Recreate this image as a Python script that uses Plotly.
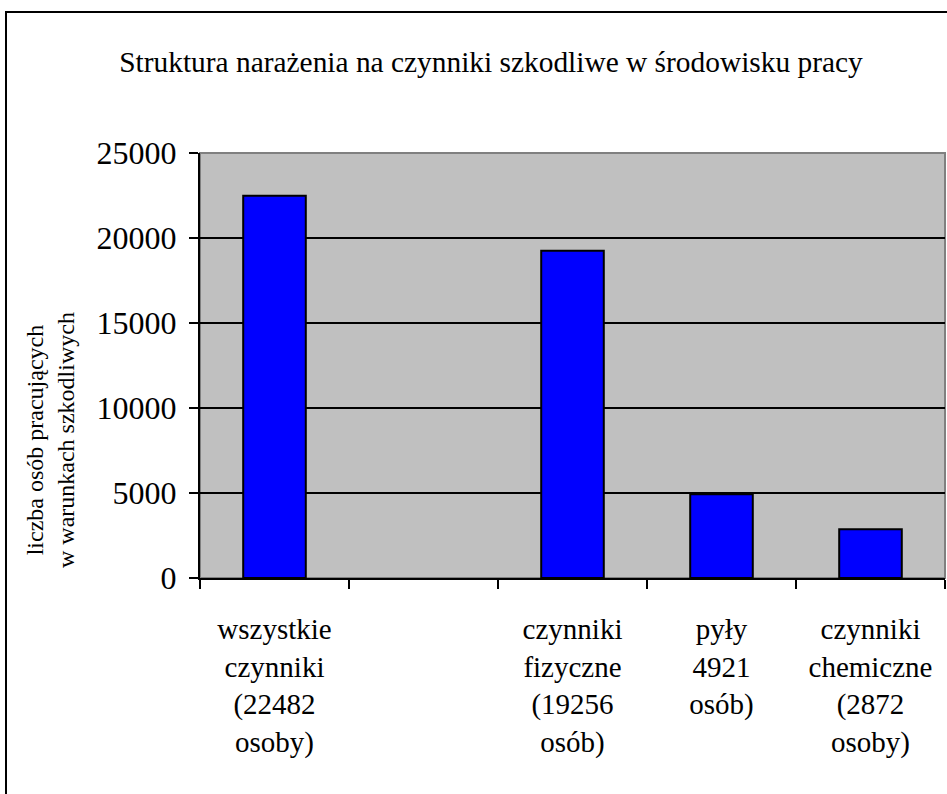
import plotly.graph_objects as go

categories = [
    "wszystkie<br>czynniki<br>(22482<br>osoby)",
    " ",
    "czynniki<br>fizyczne<br>(19256<br>osób)",
    "pyły<br>4921<br>osób)",
    "czynniki<br>chemiczne<br>(2872<br>osoby)",
]
values = [22482, None, 19256, 4921, 2872]
y_ticks = [0, 5000, 10000, 15000, 20000, 25000]
title_text = "Struktura narażenia na czynniki szkodliwe w środowisku pracy"
y_title = "liczba osób pracujących<br>w warunkach szkodliwych"

FONT = "'Liberation Serif', 'Times New Roman', Times, serif"
W, H = 947, 794
L, R, T, B = 200, 2, 153, 216
pw, ph = W - L - R, H - T - B

def px(x):
    return (x - L) / pw

def py(y):
    return (H - B - y) / ph

fig = go.Figure(
    go.Bar(
        x=categories,
        y=values,
        marker=dict(color="#0000FF", line=dict(color="black", width=2)),
    )
)

fig.update_layout(
    width=W,
    height=H,
    margin=dict(l=L, r=R, t=T, b=B),
    paper_bgcolor="white",
    plot_bgcolor="#C0C0C0",
    bargap=0.58,
    showlegend=False,
    font=dict(family=FONT, color="black"),
    title=dict(
        text=title_text,
        font=dict(family=FONT, size=29.4, color="black"),
        x=px(491), xref="paper", xanchor="center",
        y=1 - 62 / H, yref="container", yanchor="middle",
    ),
)

fig.update_xaxes(
    type="category",
    tickson="boundaries",
    ticks="outside",
    ticklen=9,
    tickwidth=1.5,
    tickcolor="black",
    showline=True,
    linecolor="black",
    linewidth=2,
    showgrid=False,
    tickfont=dict(family=FONT, size=29, color="black"),
    ticklabelstandoff=24,
    fixedrange=True,
)

fig.update_yaxes(
    range=[0, 25000],
    tickvals=y_ticks,
    ticktext=[str(v) for v in y_ticks],
    ticks="outside",
    ticklen=9,
    tickwidth=1.5,
    tickcolor="black",
    showline=True,
    linecolor="black",
    linewidth=2,
    showgrid=True,
    gridcolor="black",
    gridwidth=1.5,
    zeroline=False,
    tickfont=dict(family=FONT, size=32, color="black"),
    ticklabelstandoff=6,
    fixedrange=True,
)

# plot area border (grey top/right)
fig.add_shape(type="rect", xref="paper", yref="paper", x0=0, x1=1, y0=0, y1=1,
              line=dict(color="#808080", width=2), layer="below")
# outer chart frame
fig.add_shape(type="rect", xref="paper", yref="paper",
              x0=px(6), x1=px(1000), y0=py(820), y1=py(12),
              line=dict(color="black", width=2), layer="above")

fig.add_annotation(
    text=y_title, xref="paper", yref="paper",
    x=px(50), y=py(440), xanchor="center", yanchor="middle",
    textangle=-90, showarrow=False,
    font=dict(family=FONT, size=24, color="black"),
)

fig.write_html("out.html", post_script="document.body.style.margin='0';",
               config={"displayModeBar": False})
